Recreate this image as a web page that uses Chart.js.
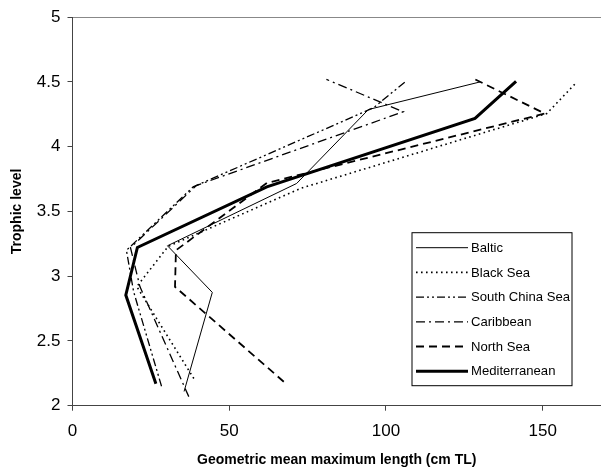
<!DOCTYPE html>
<html><head><meta charset="utf-8">
<script src="https://cdn.jsdelivr.net/npm/chart.js@4/dist/chart.umd.min.js"></script>
<style>html,body{margin:0;padding:0;background:#fff;overflow:hidden}#wrap{width:601px;height:470px}</style>
</head><body><div id="wrap"><canvas id="c" width="601" height="470"></canvas></div>
<script>
// Data: geometric mean maximum length (cm TL) vs trophic level
const seriesNames = ['Baltic', 'Black Sea', 'South China Sea', 'Caribbean', 'North Sea', 'Mediterranean'];
const balticLength = [35.6, 44.6, 30.3, 71.5, 94.4, 130];
const balticTL     = [2.11, 2.875, 3.235, 3.716, 4.287, 4.5];
const blackSeaLength = [38.7, 20.5, 30.5, 73, 151.3, 160.9];
const blackSeaTL     = [2.21, 2.92, 3.23, 3.68, 4.256, 4.5];
const southChinaLength = [28.4, 19.5, 17.2, 38.5, 96, 106.6];
const southChinaTL     = [2.15, 2.88, 3.20, 3.69, 4.3, 4.51];
const caribbeanLength = [37.1, 21.5, 18.5, 39.5, 105.5, 81];
const caribbeanTL     = [2.07, 2.92, 3.22, 3.70, 4.27, 4.52];
const northSeaLength = [67.4, 32.7, 33.0, 62, 150.7, 127.9];
const northSeaTL     = [2.185, 2.918, 3.2, 3.72, 4.256, 4.526];
const medLength = [26.6, 17.0, 20.7, 62, 128.4, 141.5];
const medTL     = [2.17, 2.854, 3.222, 3.69, 4.218, 4.505];
const xTickValues = [0, 50, 100, 150];
const yTickValues = [2, 2.5, 3, 3.5, 4, 4.5, 5];

const lengths = [balticLength, blackSeaLength, southChinaLength, caribbeanLength, northSeaLength, medLength];
const levels = [balticTL, blackSeaTL, southChinaTL, caribbeanTL, northSeaTL, medTL];
const styles = [
  {w: 1, dash: []},
  {w: 1.6, dash: [1.6, 3.4]},
  {w: 1.3, dash: [8, 3, 2, 3, 2, 3]},
  {w: 1.3, dash: [9, 4, 2, 4]},
  {w: 1.8, dash: [8, 5]},
  {w: 3, dash: []}
];

const datasets = seriesNames.map((name, i) => ({
  label: name,
  data: lengths[i].map((x, j) => ({x: x, y: levels[i][j]})),
  showLine: true,
  borderColor: '#000',
  backgroundColor: '#000',
  borderWidth: styles[i].w,
  borderDash: styles[i].dash,
  pointRadius: 0,
  pointHoverRadius: 0,
  tension: 0
}));

const boxLegend = {
  id: 'boxLegend',
  afterDatasetsDraw(chart) {
    const ctx = chart.ctx, a = chart.chartArea;
    const L = a.left + 339.5, T = a.top + 215.5, W = 160, H = 153;
    ctx.save();
    ctx.fillStyle = '#fff';
    ctx.fillRect(L, T, W, H);
    ctx.strokeStyle = '#000';
    ctx.lineWidth = 1;
    ctx.setLineDash([]);
    ctx.strokeRect(L, T, W, H);
    ctx.font = '13.1px "Liberation Sans", Arial, sans-serif';
    ctx.textBaseline = 'middle';
    ctx.fillStyle = '#000';
    chart.data.datasets.forEach((ds, i) => {
      const y = T + 15 + i * 24.7;
      ctx.beginPath();
      ctx.setLineDash(ds.borderDash || []);
      ctx.lineWidth = ds.borderWidth;
      ctx.strokeStyle = '#000';
      ctx.moveTo(L + 4, y);
      ctx.lineTo(L + 56, y);
      ctx.stroke();
      ctx.setLineDash([]);
      ctx.fillText(ds.label, L + 59, y + 0.5);
    });
    ctx.restore();
  }
};

const tickFont = {family: '"Liberation Sans", Arial, sans-serif', size: 17};
const titleFont = {family: '"Liberation Sans", Arial, sans-serif', size: 14, weight: 'bold'};

new Chart(document.getElementById('c'), {
  type: 'scatter',
  data: {datasets},
  options: {
    responsive: false,
    animation: false,
    devicePixelRatio: 1,
    layout: {padding: {left: 0, top: 17, right: 0, bottom: 0}},
    plugins: {legend: {display: false}, tooltip: {enabled: false}},
    scales: {
      x: {
        type: 'linear', min: 0, max: 168.6,
        afterBuildTicks: s => { s.ticks = xTickValues.map(v => ({value: v})); },
        afterFit: s => { s.height = 64.3; },
        grid: {drawOnChartArea: false, tickLength: 5, tickColor: '#444'},
        border: {color: '#444', width: 1},
        ticks: {font: tickFont, color: '#000', padding: 10, maxRotation: 0, callback: v => String(v)},
        title: {display: true, text: 'Geometric mean maximum length (cm TL)', font: titleFont, color: '#000', padding: {top: 0, bottom: 1}}
      },
      y: {
        type: 'linear', min: 2, max: 5,
        afterBuildTicks: s => { s.ticks = yTickValues.map(v => ({value: v})); },
        afterFit: s => { s.width = 72.5; },
        grid: {
          drawOnChartArea: true,
          color: c => (c.tick && c.tick.value === 5) ? '#888' : 'rgba(0,0,0,0)',
          tickLength: 5, tickColor: '#444'
        },
        border: {color: '#444', width: 1},
        ticks: {font: tickFont, color: '#000', padding: 7, callback: v => String(v)},
        title: {display: true, text: 'Trophic level', font: titleFont, color: '#000', padding: {top: 8.5, bottom: 0}}
      }
    }
  },
  plugins: [boxLegend]
});
</script>
</body></html>
